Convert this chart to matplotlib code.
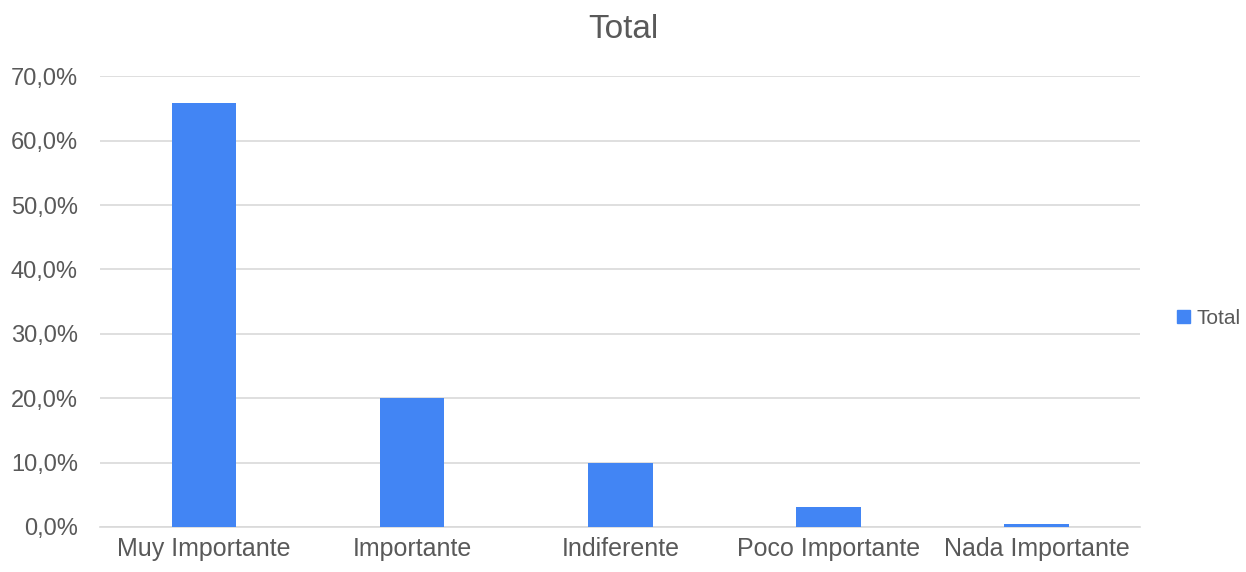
import matplotlib.pyplot as plt
from matplotlib.ticker import FuncFormatter
from matplotlib.patches import Patch

categories = ['Muy Importante', 'Importante', 'Indiferente', 'Poco Importante', 'Nada Importante']
values = [65.9, 20.0, 10.0, 3.1, 0.4]

plt.rcParams['font.family'] = ['Liberation Sans', 'DejaVu Sans']

fig = plt.figure(figsize=(12.46, 5.72), dpi=100)
ax = fig.add_axes([0.0803, 0.0787, 0.835, 0.788])

ax.bar(range(len(categories)), values, width=0.31, color='#4285f4', zorder=3)

ax.set_xlim(-0.5, len(categories) - 0.5)
ax.set_ylim(0, 70)
ax.set_yticks(range(0, 71, 10))
ax.yaxis.set_major_formatter(FuncFormatter(lambda v, p: f'{v:.1f}%'.replace('.', ',')))
ax.set_xticks(range(len(categories)))
ax.set_xticklabels(categories)
ax.grid(axis='y', color='#d9d9d9', linewidth=1.2, zorder=0)
for s in ['top', 'right', 'left']:
    ax.spines[s].set_visible(False)
ax.spines['bottom'].set_color('#d9d9d9')
ax.spines['bottom'].set_linewidth(1.2)
ax.tick_params(length=0, colors='#595959')
ax.tick_params(axis='x', labelsize=18, pad=7)
ax.tick_params(axis='y', labelsize=17, pad=16)

fig.suptitle('Total', fontsize=24, color='#595959', y=0.975)

fig.legend(handles=[Patch(color='#4285f4', label='Total')], loc='center left',
           bbox_to_anchor=(0.945, 0.443), frameon=False, fontsize=15, borderpad=0,
           borderaxespad=0, handlelength=0.6, handleheight=0.6, handletextpad=0.3,
           labelcolor='#595959')

fig.savefig('out.png', dpi=100)
